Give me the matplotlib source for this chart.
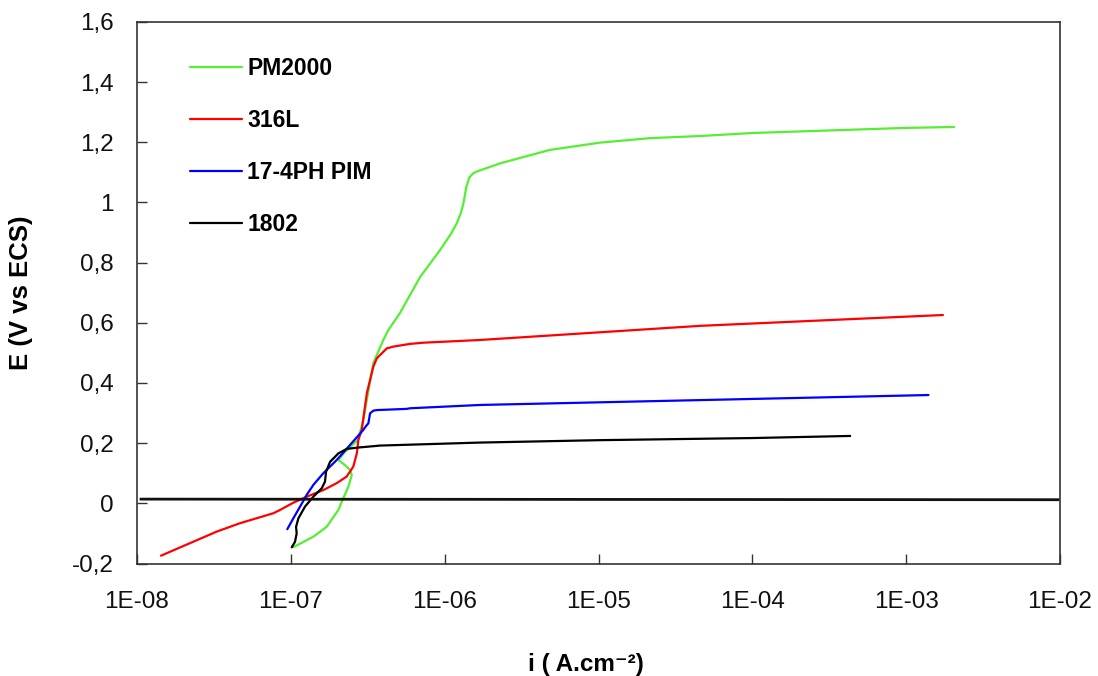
import numpy as np
import matplotlib
matplotlib.use("Agg")
import matplotlib.pyplot as plt
from matplotlib.ticker import FixedLocator, FixedFormatter

plt.rcParams['font.family'] = ['Liberation Sans', 'DejaVu Sans']

# Polarisation curves: log10 of current density (A/cm2) and potential E (V vs ECS)
pm2000_log_i = [-6.984, -6.854, -6.767, -6.691, -6.659, -6.626, -6.604, -6.615, -6.648,
                -6.691, -6.648, -6.563, -6.529, -6.464, -6.399, -6.366, -6.290, -6.160,
                -6.030, -5.960, -5.921, -5.895, -5.878, -5.860, -5.840, -5.815, -5.791,
                -5.640, -5.315, -4.990, -4.664, -4.339, -4.000, -3.000, -2.688]
pm2000_E = [-0.146, -0.111, -0.078, -0.022, 0.017, 0.055, 0.094, 0.111, 0.127,
            0.144, 0.171, 0.211, 0.277, 0.466, 0.543, 0.576, 0.633, 0.752,
            0.842, 0.895, 0.931, 0.965, 0.997, 1.050, 1.083, 1.097, 1.103,
            1.130, 1.175, 1.199, 1.214, 1.221, 1.231, 1.248, 1.251]

l316_log_i = [-7.844, -7.482, -7.330, -7.114, -7.070, -6.984, -6.897, -6.789, -6.702,
              -6.637, -6.594, -6.571, -6.561, -6.539, -6.506, -6.464, -6.441, -6.420,
              -6.376, -6.334, -6.225, -6.138, -5.770, -4.339, -2.761]
l316_E = [-0.174, -0.094, -0.066, -0.033, -0.022, 0.002, 0.022, 0.044, 0.067,
          0.089, 0.122, 0.166, 0.211, 0.244, 0.366, 0.454, 0.482, 0.493,
          0.515, 0.521, 0.530, 0.534, 0.543, 0.590, 0.626]

ph17_log_i = [-7.023, -6.984, -6.940, -6.897, -6.854, -6.789, -6.702, -6.615, -6.529,
              -6.511, -6.496, -6.485, -6.464, -6.441, -6.246, -6.225, -5.770, -4.000,
              -2.855]
ph17_E = [-0.086, -0.050, -0.011, 0.028, 0.061, 0.100, 0.144, 0.194, 0.244,
          0.257, 0.266, 0.299, 0.308, 0.310, 0.314, 0.316, 0.327, 0.347,
          0.360]

a1802_log_i = [-6.994, -6.973, -6.962, -6.966, -6.951, -6.908, -6.854, -6.799, -6.778,
               -6.771, -6.745, -6.691, -6.637, -6.550, -6.420, -5.770, -4.990, -4.000,
               -3.364]
a1802_E = [-0.146, -0.128, -0.100, -0.078, -0.050, -0.011, 0.022, 0.050, 0.072,
           0.105, 0.138, 0.166, 0.181, 0.186, 0.192, 0.202, 0.210, 0.217,
           0.224]

# Near-zero reference line across the whole range
ref_log_i = [-7.974, -2.012]
ref_E = [0.014, 0.012]

series = [
    ("PM2000", pm2000_log_i, pm2000_E, "#55EE33"),
    ("316L", l316_log_i, l316_E, "#FF0000"),
    ("17-4PH PIM", ph17_log_i, ph17_E, "#0000FF"),
    ("1802", a1802_log_i, a1802_E, "#000000"),
]

x_ticks = [1e-8, 1e-7, 1e-6, 1e-5, 1e-4, 1e-3, 1e-2]
x_tick_labels = ["1E-08", "1E-07", "1E-06", "1E-05", "1E-04", "1E-03", "1E-02"]
y_ticks = [-0.2, 0, 0.2, 0.4, 0.6, 0.8, 1.0, 1.2, 1.4, 1.6]
y_tick_labels = ["-0,2", "0", "0,2", "0,4", "0,6", "0,8", "1", "1,2", "1,4", "1,6"]

fig = plt.figure(figsize=(10.98, 6.76), dpi=100)
ax = fig.add_axes([137 / 1098, 1 - 563.5 / 676, 923 / 1098, 541.5 / 676])

for name, li, e, col in series:
    ax.plot(10 ** np.asarray(li), e, color=col, lw=1.6, label=name,
            solid_joinstyle='round', solid_capstyle='round')
ax.plot(10 ** np.asarray(ref_log_i), ref_E, color="#111111", lw=2.0)

ax.set_xscale('log')
ax.set_xlim(1e-8, 1e-2)
ax.set_ylim(-0.2, 1.6)
ax.xaxis.set_major_locator(FixedLocator(x_ticks))
ax.xaxis.set_major_formatter(FixedFormatter(x_tick_labels))
ax.xaxis.set_minor_locator(FixedLocator([]))
ax.yaxis.set_major_locator(FixedLocator(y_ticks))
ax.yaxis.set_major_formatter(FixedFormatter(y_tick_labels))

ax.tick_params(axis='both', direction='in', length=7, width=1.0, color='#333333',
               labelsize=17.5, labelcolor='#111111')
ax.tick_params(axis='y', pad=17)
ax.tick_params(axis='x', pad=20)
for sp in ax.spines.values():
    sp.set_color('#333333')
    sp.set_linewidth(1.2)

ax.set_ylabel("E (V vs ECS)", fontsize=18.5, fontweight='bold')
ax.yaxis.set_label_coords(-0.1127, 0.5)
fig.text(586 / 1098, 1 - 664 / 676, "i ( A.cm\u207b\u00b2)", fontsize=17.5,
         fontweight='bold', ha='center', va='center')

leg = ax.legend(loc='upper left', bbox_to_anchor=(0.0574, 0.936), frameon=False,
                borderpad=0, borderaxespad=0, handlelength=2.27, handletextpad=0.22,
                labelspacing=1.27, prop={'size': 16.5, 'weight': 'bold'})

fig.savefig("out.png", dpi=100)
